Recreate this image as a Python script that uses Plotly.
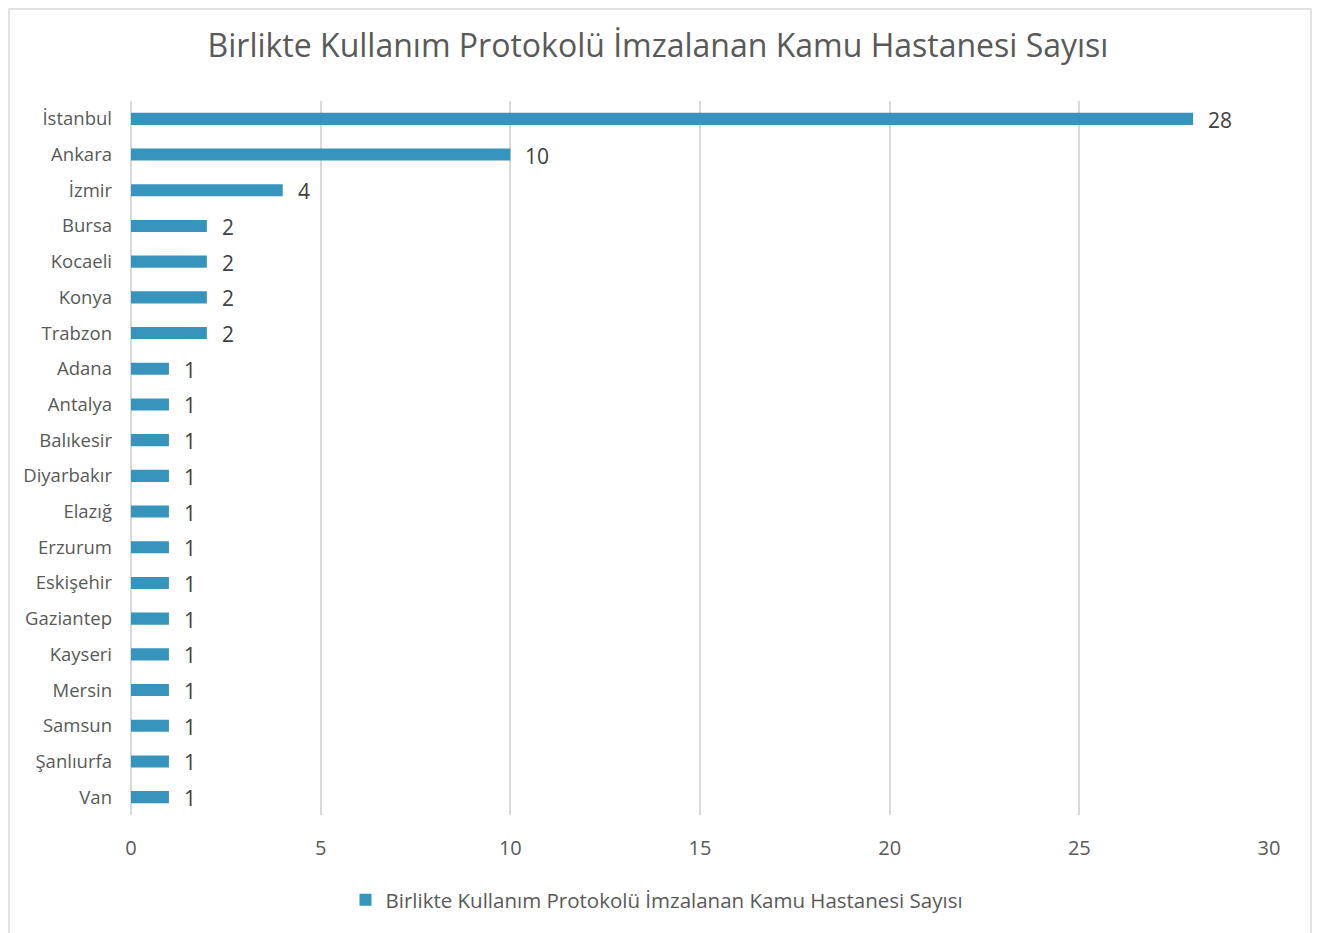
import plotly.graph_objects as go

cities = ["İstanbul", "Ankara", "İzmir", "Bursa", "Kocaeli", "Konya", "Trabzon",
          "Adana", "Antalya", "Balıkesir", "Diyarbakır", "Elazığ", "Erzurum",
          "Eskişehir", "Gaziantep", "Kayseri", "Mersin", "Samsun", "Şanlıurfa", "Van"]
counts = [28, 10, 4, 2, 2, 2, 2, 1, 1, 1, 1, 1, 1, 1, 1, 1, 1, 1, 1, 1]
series_name = "Birlikte Kullanım Protokolü İmzalanan Kamu Hastanesi Sayısı"
title_text = "Birlikte Kullanım Protokolü İmzalanan Kamu Hastanesi Sayısı"
x_ticks = [0, 5, 10, 15, 20, 25, 30]

BAR = "#3794BC"
FONT = "Open Sans"
W, H = 1315, 925
L, T, R, B = 123, 93, 54, 118
PW, PH = W - L - R, H - T - B

fig = go.Figure()
fig.add_trace(go.Bar(
    x=counts, y=cities, orientation="h", name=series_name,
    marker=dict(color=BAR, line=dict(width=0)),
    showlegend=True,
))

annotations = [
    dict(x=v, y=c, xref="x", yref="y", text=str(v), showarrow=False,
         xanchor="left", yanchor="middle", xshift=13, yshift=-1,
         font=dict(family=FONT, size=21, color="#404040"))
    for c, v in zip(cities, counts)
]

fig.update_layout(
    width=W, height=H,
    paper_bgcolor="white", plot_bgcolor="white",
    margin=dict(l=L, r=R, t=T, b=B),
    bargap=0.66,
    title=dict(text=title_text, x=(658 - 8) / W, xanchor="center", y=1 - 38 / H,
               yanchor="middle", yref="container",
               font=dict(family=FONT, size=32, color="#595959")),
    font=dict(family=FONT, color="#595959"),
    legend=dict(orientation="h", x=(657 - 131) / PW, xanchor="center", y=-0.091, yanchor="top",
                font=dict(family=FONT, size=20.5, color="#595959"),
                itemwidth=30),
    annotations=annotations,
    shapes=[dict(type="rect", xref="paper", yref="paper",
                 x0=(1 - L) / PW, x1=(1303 - L) / PW,
                 y0=-(140 / PH), y1=1 + ((T - 1) / PH),
                 line=dict(color="#D9D9D9", width=1.5), fillcolor="rgba(0,0,0,0)",
                 layer="below")],
)
fig.update_xaxes(range=[0, 30], tickvals=x_ticks, showgrid=True, gridcolor="#D9D9D9",
                 gridwidth=1.5, zeroline=True, zerolinecolor="#D9D9D9", zerolinewidth=1.5,
                 showline=False, ticks="", ticklabelstandoff=19,
                 tickfont=dict(family=FONT, size=20, color="#595959"))
fig.update_yaxes(autorange="reversed", showgrid=False, showline=False, ticks="",
                 ticklabelstandoff=18,
                 tickfont=dict(family=FONT, size=18.5, color="#595959"))

fig.write_html("out.html")
